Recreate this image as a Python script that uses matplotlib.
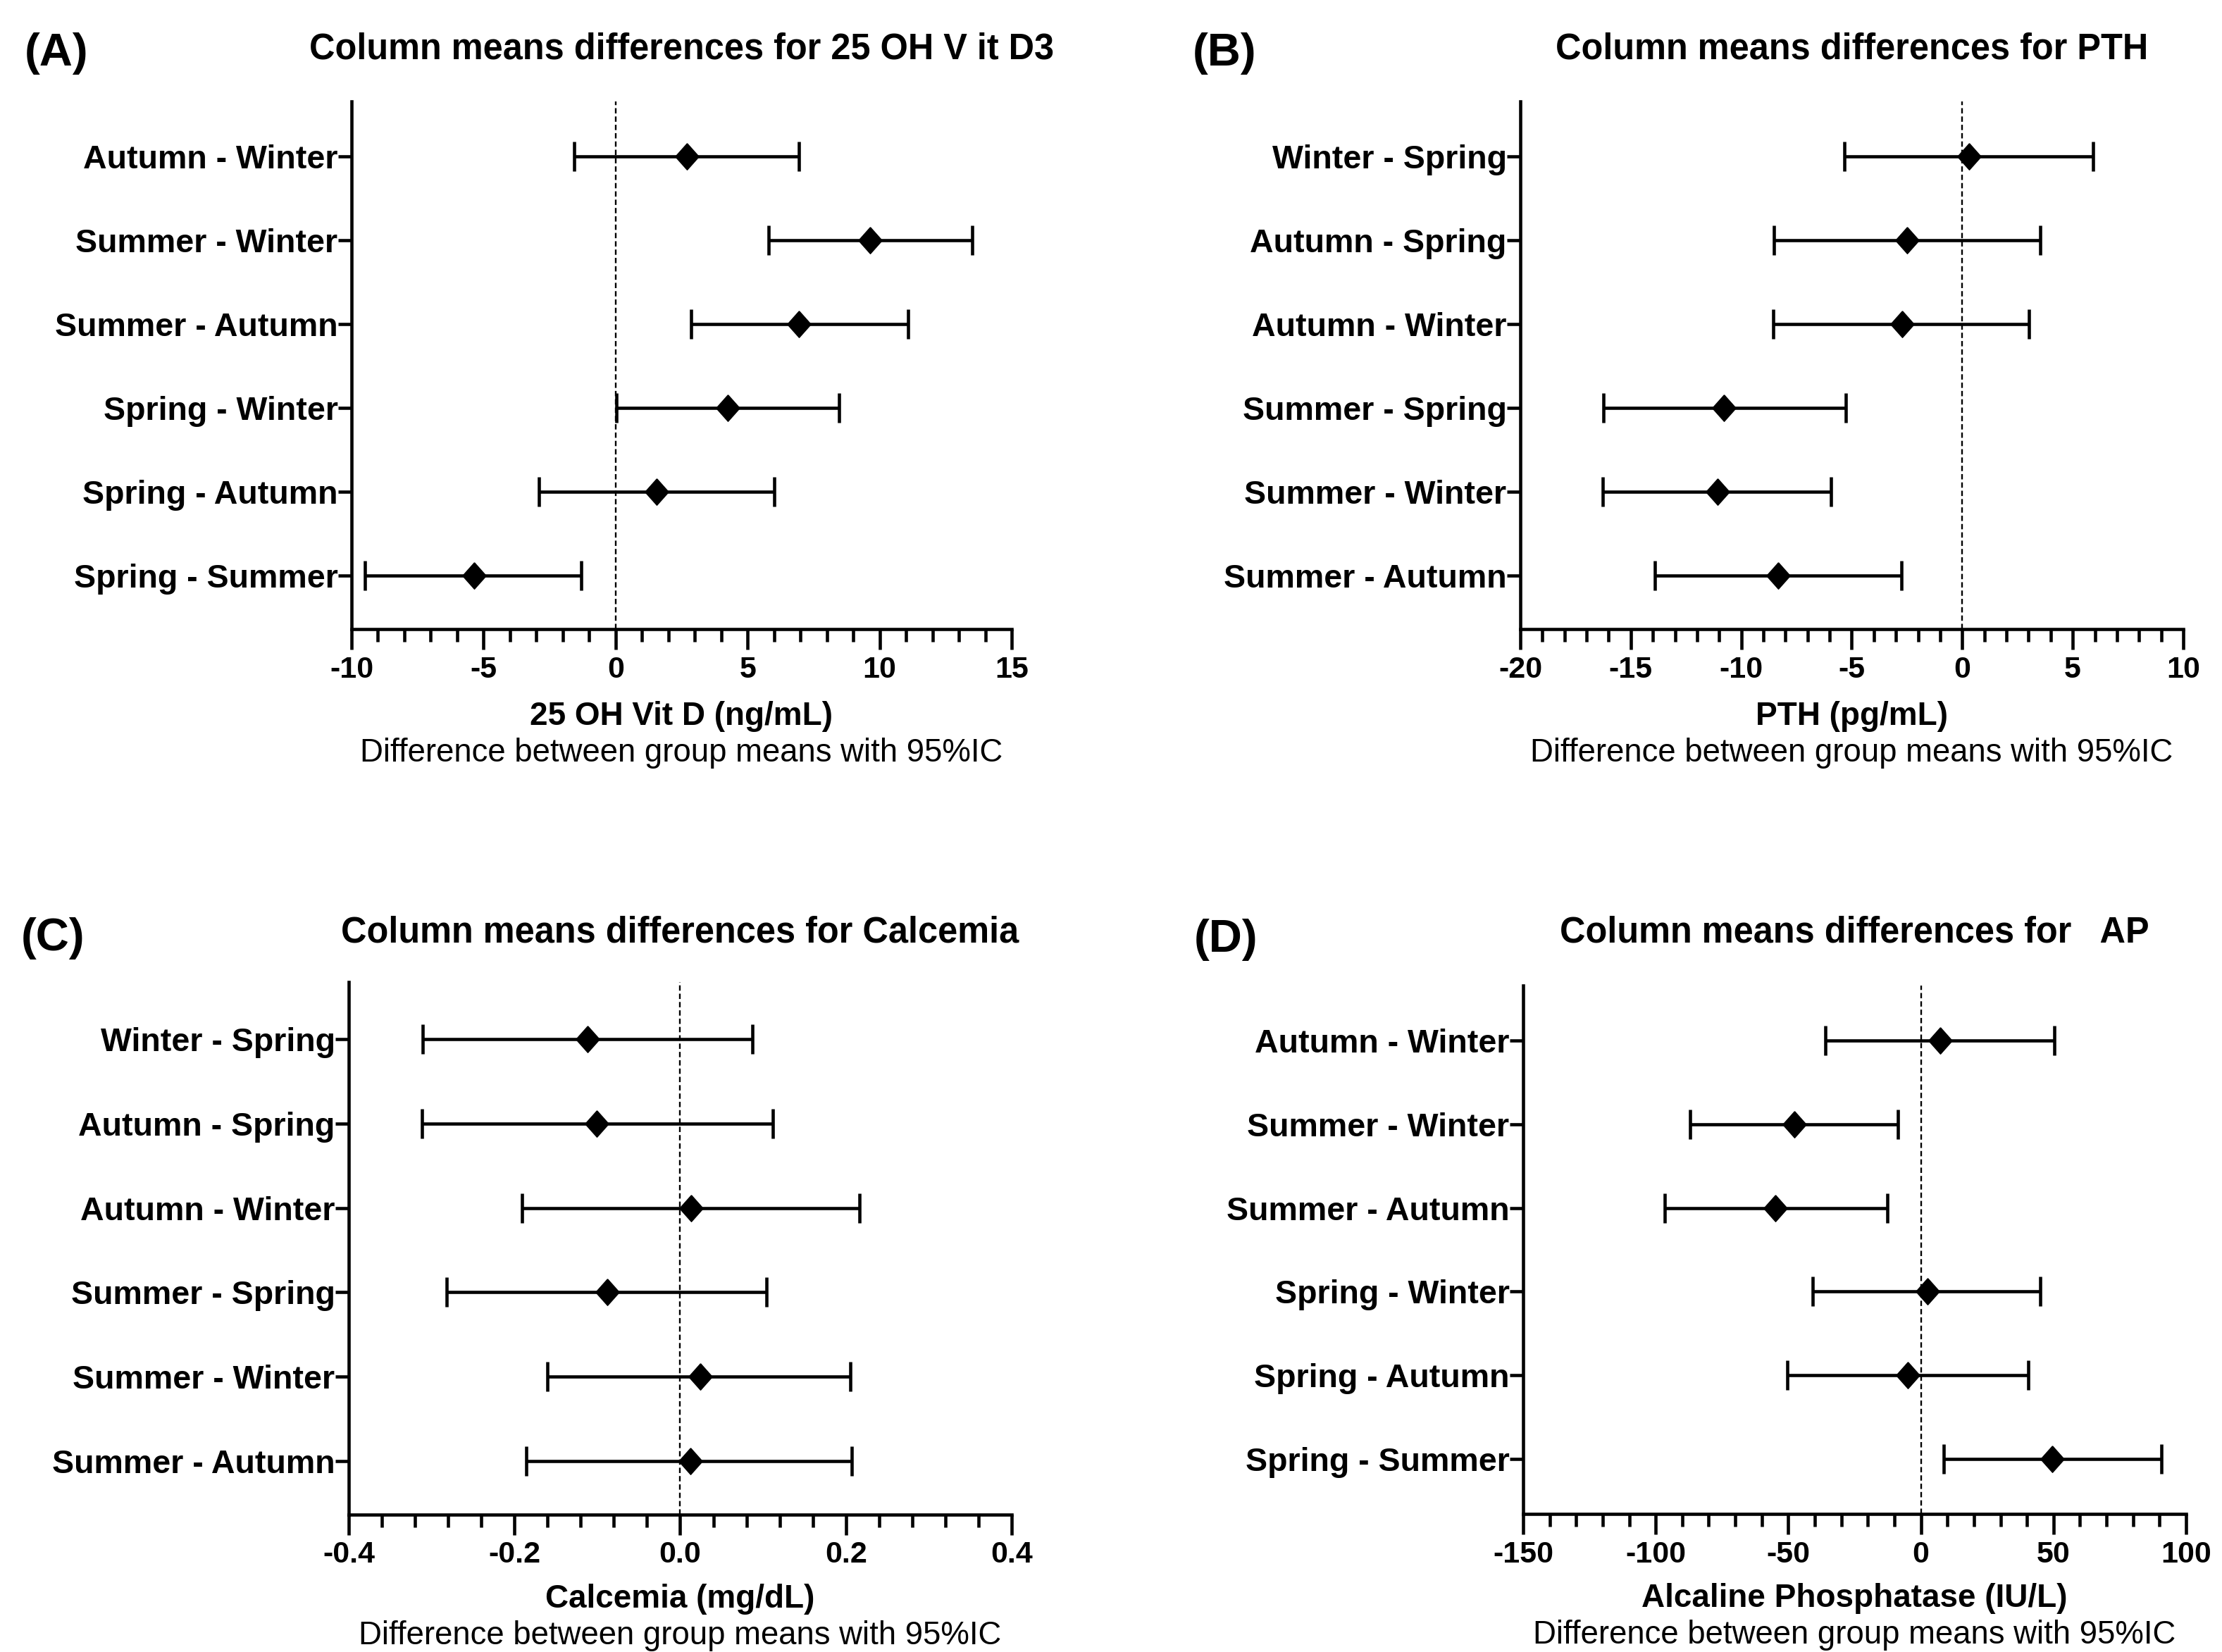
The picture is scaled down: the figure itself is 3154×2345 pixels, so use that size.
import matplotlib
matplotlib.use("Agg")
import matplotlib.pyplot as plt
import numpy as np
from matplotlib.ticker import MultipleLocator, FixedLocator

plt.rcParams['font.family'] = ['Liberation Sans', 'DejaVu Sans']

# ---------------- data ----------------
a_labels = ["Autumn - Winter", "Summer - Winter", "Summer - Autumn",
            "Spring - Winter", "Spring - Autumn", "Spring - Summer"]
a_mean = [2.69, 9.63, 6.94, 4.26, 1.54, -5.37]
a_lo = [-1.57, 5.80, 2.85, 0.03, -2.90, -9.49]
a_hi = [6.94, 13.51, 11.09, 8.46, 6.01, -1.30]

b_labels = ["Winter - Spring", "Autumn - Spring", "Autumn - Winter",
            "Summer - Spring", "Summer - Winter", "Summer - Autumn"]
b_mean = [0.32, -2.49, -2.72, -10.79, -11.08, -8.33]
b_lo = [-5.35, -8.52, -8.55, -16.23, -16.26, -13.90]
b_hi = [5.93, 3.53, 3.01, -5.28, -5.93, -2.75]

c_labels = ["Winter - Spring", "Autumn - Spring", "Autumn - Winter",
            "Summer - Spring", "Summer - Winter", "Summer - Autumn"]
c_mean = [-0.112, -0.101, 0.013, -0.088, 0.024, 0.012]
c_lo = [-0.311, -0.312, -0.191, -0.282, -0.160, -0.186]
c_hi = [0.087, 0.112, 0.216, 0.104, 0.205, 0.207]

d_labels = ["Autumn - Winter", "Summer - Winter", "Summer - Autumn",
            "Spring - Winter", "Spring - Autumn", "Spring - Summer"]
d_mean = [7.3, -47.7, -54.8, 2.4, -4.9, 49.6]
d_lo = [-36.1, -87.0, -96.5, -40.7, -50.4, 8.7]
d_hi = [50.2, -8.7, -12.7, 45.0, 40.4, 90.8]

a_xticks = [-10, -5, 0, 5, 10, 15]
b_xticks = [-20, -15, -10, -5, 0, 5, 10]
c_xticks = [-0.4, -0.2, 0.0, 0.2, 0.4]
c_xticklabels = ["-0.4", "-0.2", "0.0", "0.2", "0.4"]
d_xticks = [-150, -100, -50, 0, 50, 100]

titles = ["Column means differences for 25 OH V it D3",
          "Column means differences for PTH",
          "Column means differences for Calcemia",
          "Column means differences for   AP"]
panel_letters = ["(A)", "(B)", "(C)", "(D)"]
xlabels = ["25 OH Vit D (ng/mL)", "PTH (pg/mL)", "Calcemia (mg/dL)",
           "Alcaline Phosphatase (IU/L)"]
subtitle = "Difference between group means with 95%IC"

# ---------------- figure ----------------
W, H = 3154, 2345
fig = plt.figure(figsize=(W / 100, H / 100), dpi=100)

# layout in pixels: left, right, top, bottom, row pads, title/letter baselines,
# x-label and subtitle offsets below the axes
layouts = [
    dict(l=499, r=1436, t=144, b=893, pt=0.655, pb=0.64, tb=83, lb=93, lx=80,
         xo=124, so=176),
    dict(l=2158, r=3099, t=144, b=893, pt=0.655, pb=0.64, tb=83, lb=93, lx=1738,
         xo=124, so=176),
    dict(l=495, r=1436, t=1394, b=2150, pt=0.676, pb=0.634, tb=1337, lb=1349,
         lx=75, xo=120, so=172),
    dict(l=2162, r=3103, t=1399, b=2149, pt=0.657, pb=0.657, tb=1337, lb=1351,
         lx=1740, xo=120, so=172),
]

panels = [
    (a_labels, a_mean, a_lo, a_hi, a_xticks, [str(v) for v in a_xticks], 1),
    (b_labels, b_mean, b_lo, b_hi, b_xticks, [str(v) for v in b_xticks], 1),
    (c_labels, c_mean, c_lo, c_hi, c_xticks, c_xticklabels, 0.04),
    (d_labels, d_mean, d_lo, d_hi, d_xticks, [str(v) for v in d_xticks], 10),
]

diamond = [(0, 1), (0.89, 0), (0, -1), (-0.89, 0), (0, 1)]
LW = 3.3

for i, (labels, mean, lo, hi, xt, xtl, minor) in enumerate(panels):
    L = layouts[i]
    ax = fig.add_axes([L['l'] / W, 1 - L['b'] / H, (L['r'] - L['l']) / W,
                       (L['b'] - L['t']) / H])
    mean = np.array(mean)
    lo = np.array(lo)
    hi = np.array(hi)
    y = np.arange(len(labels))
    ax.axvline(0, color='black', lw=1.7, ls=(0, (3.2, 1.8)), zorder=1)
    ax.errorbar(mean, y, xerr=[mean - lo, hi - mean], fmt='none',
                ecolor='black', elinewidth=LW, capsize=14.8, capthick=LW,
                zorder=2)
    ax.plot(mean, y, linestyle='none', marker=diamond, markersize=27,
            color='black', zorder=3)
    ax.set_xlim(xt[0], xt[-1])
    ax.set_ylim(len(labels) - 1 + L['pb'], -L['pt'])
    ax.set_yticks(y)
    ax.set_yticklabels(labels, fontsize=33.5, fontweight='bold')
    ax.xaxis.set_major_locator(FixedLocator(xt))
    ax.set_xticklabels(xtl, fontsize=31, fontweight='bold')
    ax.xaxis.set_minor_locator(MultipleLocator(minor))
    for s in ['top', 'right']:
        ax.spines[s].set_visible(False)
    for s in ['left', 'bottom']:
        ax.spines[s].set_linewidth(LW)
    ax.tick_params(axis='y', length=14, width=LW, pad=0, direction='out')
    ax.tick_params(axis='x', which='major', length=21, width=LW, pad=6,
                   direction='out')
    ax.tick_params(axis='x', which='minor', length=13, width=LW,
                   direction='out')
    cx = (L['l'] + L['r']) / 2 / W
    fig.text(cx, 1 - L['tb'] / H, titles[i], ha='center', va='baseline',
             fontsize=36.4, fontweight='bold')
    fig.text(L['lx'] / W, 1 - L['lb'] / H, panel_letters[i], ha='center',
             va='baseline', fontsize=47, fontweight='bold')
    fig.text(cx, 1 - (L['b'] + L['xo']) / H, xlabels[i], ha='center',
             va='center', fontsize=33, fontweight='bold')
    fig.text(cx, 1 - (L['b'] + L['so']) / H, subtitle, ha='center',
             va='center', fontsize=32.8)

fig.savefig("out.png", dpi=100, facecolor='white')
